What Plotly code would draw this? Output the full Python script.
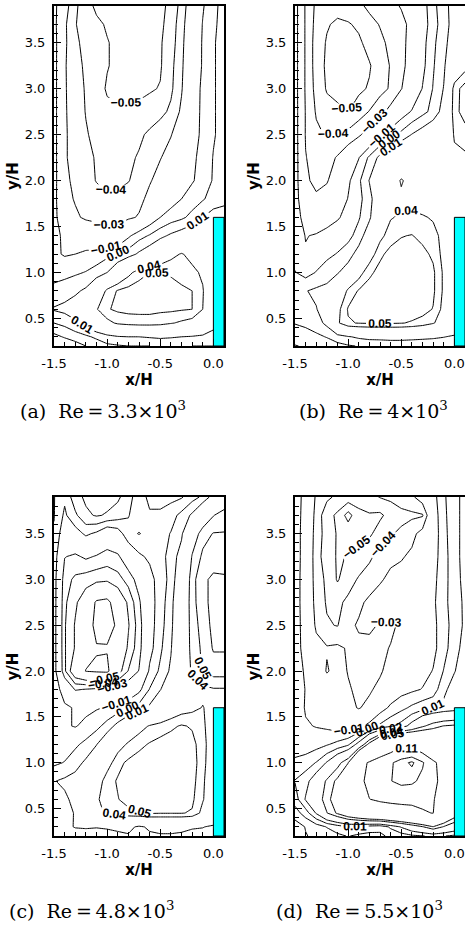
import numpy as np
import plotly.graph_objects as go

# grid (x/H, y/H)
x_grid = [-1.5, -1.4, -1.3, -1.2, -1.1, -1.0, -0.9, -0.8, -0.7, -0.6, -0.5, -0.4, -0.3, -0.2, -0.1, 0.0, 0.1]
y_grid = [0.2, 0.3, 0.45, 0.6, 0.8, 1.0, 1.2, 1.4, 1.6, 1.8, 2.0, 2.25, 2.5, 2.75, 3.0, 3.25, 3.5, 3.7, 3.9]

# values in units of 0.01, rows from y=0.2 upward
z_a = [
    [-2.0, -1.8, -1.5, -1.0, -0.6, -0.2, -0.1, 0.0, 0.0, 0.0, 0.1, 0.2, 0.1, 0.0, 0.0, 0.0, 0.0],
    [-1.3, -0.9, -0.5, -0.2, 0.2, 0.6, 0.9, 1.0, 1.0, 1.1, 1.2, 1.1, 1.0, 0.9, 0.8, 0.5, 0.5],
    [0.0, 0.3, 0.8, 1.5, 2.5, 3.6, 4.2, 4.4, 4.5, 4.5, 4.4, 4.1, 3.8, 3.5, 2.4, 1.5, 1.5],
    [1.1, 1.3, 1.6, 2.4, 3.9, 4.9, 5.2, 5.3, 5.3, 5.3, 5.2, 5.2, 5.1, 5.0, 4.0, 2.5, 2.5],
    [0.3, 0.5, 0.8, 1.2, 2.5, 4.3, 5.1, 5.4, 5.5, 5.5, 5.4, 5.3, 5.2, 5.0, 4.1, 2.5, 2.5],
    [-0.4, -0.3, -0.15, 0.05, 0.4, 1.0, 2.2, 3.6, 4.6, 5.0, 5.1, 4.9, 4.6, 4.3, 3.8, 3.0, 3.0],
    [-0.8, -1.1, -1.0, -0.8, -0.6, -0.3, 0.05, 0.5, 1.2, 1.8, 2.6, 3.6, 4.1, 3.6, 3.0, 3.0, 3.0],
    [-0.7, -1.2, -1.5, -1.8, -2.2, -2.6, -2.3, -1.2, -0.4, 0.1, 0.7, 1.2, 1.6, 2.0, 2.3, 2.5, 2.5],
    [-0.6, -2.0, -2.8, -3.2, -3.3, -3.4, -3.4, -3.2, -2.9, -1.8, -1.0, -0.5, -0.2, 0.3, 1.0, 1.5, 1.5],
    [-0.5, -2.6, -3.1, -3.3, -3.6, -3.9, -3.8, -3.5, -3.3, -2.7, -2.0, -1.5, -1.0, -0.5, -0.1, 0.4, 0.7],
    [-0.4, -2.8, -3.2, -3.6, -4.05, -4.2, -4.2, -4.05, -3.6, -3.1, -2.6, -2.2, -1.6, -1.1, -0.6, 0.1, 0.5],
    [-0.4, -2.9, -3.3, -3.7, -4.1, -4.3, -4.3, -4.2, -3.9, -3.4, -3.05, -2.6, -2.05, -1.2, -0.7, 0.05, 0.4],
    [-0.4, -2.9, -3.3, -3.9, -4.3, -4.5, -4.5, -4.4, -4.2, -3.8, -3.4, -3.05, -2.4, -1.4, -0.8, -0.1, 0.4],
    [-0.4, -2.9, -3.4, -4.05, -4.4, -4.8, -4.9, -4.9, -4.8, -4.6, -4.3, -3.8, -2.8, -1.5, -0.8, -0.1, 0.4],
    [-0.4, -2.9, -3.5, -4.1, -4.6, -5.1, -5.2, -5.2, -5.2, -5.1, -4.95, -4.2, -3.1, -1.6, -0.8, -0.1, 0.4],
    [-0.4, -2.9, -3.6, -4.2, -4.5, -4.95, -5.2, -5.3, -5.3, -5.2, -5.1, -4.3, -3.2, -1.8, -0.9, -0.1, 0.4],
    [-0.4, -2.8, -3.8, -4.3, -4.6, -4.95, -5.2, -5.3, -5.3, -5.2, -5.1, -4.5, -3.3, -1.9, -0.9, -0.1, 0.4],
    [-0.5, -2.8, -3.95, -4.4, -4.8, -5.1, -5.3, -5.5, -5.4, -5.3, -5.2, -4.6, -3.4, -2.05, -0.95, -0.2, 0.4],
    [-0.5, -2.5, -3.8, -4.6, -5.2, -5.4, -5.6, -5.8, -5.8, -5.6, -5.2, -4.8, -3.6, -2.2, -1.1, -0.3, 0.4],
]

z_b = [
    [-1.05, -0.9, -0.7, -0.5, -0.3, -0.1, 0.05, 0.1, 0.2, 0.2, 0.2, 0.2, 0.2, 0.2, 0.1, 0.05, 0.05],
    [-0.6, -0.4, -0.2, 0.05, 0.5, 0.9, 1.2, 1.4, 1.4, 1.5, 1.5, 1.4, 1.3, 1.2, 1.05, 0.8, 0.8],
    [0.05, 0.2, 0.5, 1.3, 3.8, 4.9, 5.05, 5.1, 5.1, 5.1, 5.05, 4.9, 4.6, 4.1, 3.4, 2.5, 2.5],
    [0.4, 0.6, 0.95, 1.6, 3.6, 5.1, 5.4, 5.5, 5.6, 5.6, 5.6, 5.5, 5.4, 4.95, 3.6, 3.0, 3.0],
    [0.8, 0.95, 1.2, 1.4, 2.2, 4.3, 5.1, 5.4, 5.6, 5.7, 5.7, 5.6, 5.5, 5.2, 3.8, 3.0, 3.0],
    [0.05, -0.4, 0.05, 0.4, 0.9, 1.6, 3.4, 4.8, 5.3, 5.5, 5.6, 5.6, 5.5, 5.2, 3.8, 3.0, 3.0],
    [-0.4, -0.9, -0.6, -0.2, 0.05, 0.5, 1.5, 3.2, 4.8, 5.3, 5.4, 5.4, 5.3, 4.8, 3.6, 3.0, 3.0],
    [-0.3, -1.05, -0.9, -0.7, -0.5, -0.3, 0.4, 1.8, 3.6, 4.6, 4.95, 5.05, 4.7, 4.3, 3.7, 3.0, 3.0],
    [-0.3, -1.6, -1.8, -1.4, -1.1, -0.7, -0.1, 0.8, 2.5, 3.9, 4.2, 4.2, 4.1, 3.9, 3.6, 3.6, 3.6],
    [-0.3, -2.4, -2.8, -2.5, -1.8, -0.95, -0.3, 0.6, 2.1, 3.3, 3.8, 3.6, 3.4, 3.3, 3.3, 3.4, 3.4],
    [-0.3, -2.8, -3.3, -3.1, -2.3, -1.2, -0.2, 1.05, 2.2, 3.3, 4.1, 3.6, 3.4, 3.3, 3.4, 3.5, 3.5],
    [-0.3, -2.95, -3.5, -3.4, -2.9, -2.1, -1.05, 0.2, 1.3, 2.2, 2.8, 3.2, 3.4, 3.5, 3.6, 3.8, 3.8],
    [-0.3, -3.1, -3.8, -4.1, -3.95, -3.7, -3.2, -2.4, -1.2, -0.4, 0.3, 1.05, 1.6, 2.2, 2.8, 4.1, 4.5],
    [-0.3, -3.1, -4.1, -4.6, -4.8, -5.02, -4.5, -3.95, -3.4, -2.6, -1.6, -0.9, -0.3, 0.3, 1.5, 4.6, 5.5],
    [-0.3, -3.2, -4.3, -5.1, -5.3, -5.3, -5.2, -4.9, -4.3, -3.9, -3.05, -2.1, -0.95, 0.05, 1.05, 4.5, 5.5],
    [-0.3, -3.2, -4.4, -5.2, -5.4, -5.4, -5.2, -5.1, -4.4, -3.95, -3.3, -2.5, -1.3, -0.1, 0.8, 2.5, 3.5],
    [-0.3, -3.2, -4.4, -5.1, -5.4, -5.4, -5.2, -4.6, -4.2, -3.8, -3.3, -2.6, -1.4, -0.2, 0.6, 1.8, 2.8],
    [-0.3, -3.2, -4.3, -4.9, -5.2, -5.1, -4.8, -4.3, -3.95, -3.5, -3.2, -2.8, -1.6, -0.4, 0.5, 1.5, 2.5],
    [-0.3, -3.2, -4.2, -4.6, -4.6, -4.4, -4.2, -3.8, -3.5, -3.2, -2.95, -2.6, -1.5, -0.3, 0.6, 1.5, 2.5],
]

z_c = [
    [0.5, 0.5, 0.6, 0.6, 0.6, 0.7, 0.8, 0.9, 0.5, 0.8, 0.9, 0.9, 0.8, 0.7, 0.6, 0.5, 0.5],
    [0.6, 0.8, 1.05, 1.1, 1.05, 1.1, 1.2, 1.3, 0.8, 1.2, 1.3, 1.3, 1.3, 1.1, 1.05, 0.8, 0.8],
    [0.3, 0.5, 1.1, 2.3, 3.6, 4.2, 4.3, 4.7, 4.95, 5.1, 5.05, 5.05, 5.05, 4.9, 3.6, 2.5, 2.5],
    [0.5, 0.8, 1.3, 2.4, 3.8, 4.6, 4.95, 5.4, 5.5, 5.6, 5.6, 5.5, 5.4, 5.2, 4.1, 3.0, 3.0],
    [0.95, 1.2, 1.4, 2.1, 3.2, 4.6, 5.1, 5.5, 5.7, 5.8, 5.8, 5.8, 5.7, 5.4, 4.2, 3.0, 3.0],
    [-0.2, 0.05, 0.6, 1.2, 2.1, 3.4, 4.7, 5.2, 5.5, 5.7, 5.8, 5.8, 5.7, 5.5, 4.4, 3.0, 3.0],
    [-0.3, -0.6, -0.2, 0.3, 0.95, 2.1, 3.4, 4.2, 4.7, 5.1, 5.4, 5.5, 5.5, 5.3, 4.5, 3.0, 3.0],
    [-0.3, -0.9, -1.05, -0.8, -0.3, 0.4, 1.4, 2.6, 3.5, 4.1, 4.4, 4.8, 5.1, 4.9, 4.3, 3.0, 3.0],
    [-0.3, -0.8, -1.1, -1.2, -1.1, -0.9, -0.6, -0.2, 0.4, 1.2, 2.1, 2.8, 3.4, 3.7, 4.05, 3.6, 3.6],
    [-0.3, -1.6, -3.1, -2.95, -2.8, -2.6, -2.4, -2.1, -1.3, 0.05, 0.95, 1.8, 2.8, 3.4, 3.7, 3.9, 3.9],
    [-0.4, -3.8, -6.1, -7.05, -7.2, -7.3, -5.6, -3.95, -2.95, -0.8, 0.2, 1.2, 2.8, 4.2, 5.1, 5.5, 5.5],
    [-0.4, -3.9, -5.1, -6.4, -6.9, -6.9, -6.4, -4.8, -3.4, -1.4, -0.2, 0.9, 2.7, 4.4, 5.2, 6.1, 6.1],
    [-0.4, -3.9, -5.1, -6.2, -7.4, -7.5, -6.8, -5.1, -3.5, -1.5, -0.4, 0.7, 2.6, 4.5, 5.4, 6.3, 6.3],
    [-0.4, -3.8, -4.8, -5.8, -7.2, -7.4, -6.1, -4.8, -3.2, -1.5, -0.5, 0.6, 2.5, 4.6, 5.7, 6.3, 6.3],
    [-0.4, -3.6, -4.2, -4.5, -4.7, -4.8, -4.4, -3.6, -2.5, -1.4, -0.5, 0.3, 2.2, 4.6, 5.8, 6.2, 6.2],
    [-0.3, -2.95, -3.2, -2.8, -3.1, -3.4, -3.2, -2.1, -1.2, -0.8, -0.4, 0.4, 1.5, 4.1, 5.2, 5.5, 5.3],
    [-0.1, -1.8, -1.5, -0.8, -1.2, -2.1, -1.6, -0.3, 0.05, -0.3, -0.4, 0.05, 0.8, 3.05, 4.6, 5.05, 5.05],
    [0.05, -1.2, -0.2, 0.8, 1.1, 0.9, 0.5, 0.05, -0.5, -0.9, -0.8, -0.4, 0.3, 1.2, 2.8, 3.95, 4.5],
    [0.05, -0.8, 0.6, 1.2, 1.4, 1.4, 1.2, 0.4, -0.6, -1.2, -1.4, -1.3, -1.1, -0.4, 0.2, 1.5, 2.9],
]

z_d = [
    [-1.2, -1.05, -0.8, -0.5, -0.2, 0.05, -0.2, -0.3, -0.2, 0.2, 0.5, 0.8, 0.95, 1.2, 1.05, 0.8, 0.8],
    [-1.5, -0.95, -0.5, 0.05, 0.5, 0.95, 0.8, 0.5, 0.3, 1.2, 2.1, 3.05, 3.9, 4.95, 3.9, 3.05, 3.05],
    [-0.5, 0.5, 2.1, 3.95, 5.2, 6.5, 7.5, 8.5, 9.05, 9.5, 9.8, 10.2, 10.8, 11.05, 8.05, 6.0, 6.0],
    [0.5, 2.1, 3.2, 4.6, 5.8, 8.05, 10.05, 10.95, 11.4, 11.6, 11.7, 11.6, 11.5, 11.2, 9.5, 8.05, 8.05],
    [1.05, 1.6, 2.8, 4.2, 5.3, 7.0, 10.2, 11.8, 12.4, 12.95, 13.4, 13.3, 12.6, 11.6, 10.2, 8.05, 8.05],
    [0.2, 0.5, 1.05, 2.1, 3.5, 4.95, 9.9, 11.3, 12.1, 12.8, 13.6, 14.2, 13.2, 11.5, 9.9, 8.05, 8.05],
    [-0.5, -0.6, -0.4, -0.1, 0.3, 0.8, 2.5, 5.5, 8.5, 9.5, 10.5, 10.3, 9.0, 7.5, 6.5, 6.05, 6.05],
    [-0.3, -0.9, -1.05, -1.2, -1.5, -1.6, -1.4, -0.6, 0.2, 0.8, 1.4, 2.5, 3.8, 4.6, 5.05, 5.2, 5.2],
    [-0.3, -1.1, -1.5, -1.8, -2.1, -2.6, -3.1, -2.6, -1.5, -0.8, -0.3, 0.2, 0.6, 0.9, 1.2, 1.4, 1.4],
    [-0.3, -1.05, -1.8, -2.2, -2.6, -2.9, -3.2, -3.2, -2.6, -1.8, -1.4, -1.2, -0.95, -0.6, 0.8, 1.4, 1.5],
    [-0.3, -1.2, -2.1, -3.1, -2.6, -3.05, -3.2, -3.3, -3.2, -2.4, -2.1, -1.8, -1.4, -0.95, 0.05, 0.95, 1.5],
    [-0.3, -1.6, -2.6, -2.9, -2.8, -3.1, -3.2, -3.3, -3.2, -2.95, -2.6, -2.3, -1.9, -1.3, -0.4, 0.6, 1.4],
    [-0.3, -1.7, -3.2, -3.9, -4.05, -3.2, -2.9, -2.8, -3.1, -3.2, -2.8, -2.4, -2.1, -1.3, -0.4, 0.4, 1.2],
    [-0.3, -1.8, -3.4, -4.1, -4.2, -3.8, -3.2, -2.8, -2.6, -2.5, -2.4, -2.3, -2.05, -1.2, -0.3, 0.5, 1.2],
    [-0.3, -1.8, -3.5, -4.2, -5.1, -4.4, -3.9, -3.5, -3.1, -2.8, -2.6, -2.3, -1.9, -1.3, -0.4, 0.6, 1.3],
    [-0.3, -1.7, -3.6, -4.5, -5.1, -4.95, -4.6, -4.2, -3.6, -3.2, -3.1, -2.8, -2.2, -1.5, -0.4, 0.6, 1.4],
    [-0.3, -1.7, -3.5, -4.4, -5.1, -5.3, -5.4, -5.2, -4.5, -4.1, -3.8, -3.3, -2.6, -1.6, -0.4, 0.8, 1.2],
    [-0.3, -1.6, -3.4, -4.6, -5.2, -6.4, -5.3, -5.1, -5.2, -4.6, -4.3, -4.2, -4.1, -1.6, -0.3, 0.8, 1.2],
    [-0.3, -1.5, -3.2, -3.8, -4.2, -4.4, -4.5, -4.3, -3.95, -3.8, -3.5, -3.2, -2.4, -1.4, -0.2, 0.8, 1.2],
]

levels_a = [-0.05, -0.04, -0.03, -0.01, 0.0, 0.01, 0.04, 0.05]
levels_b = [-0.05, -0.04, -0.03, -0.01, 0.0, 0.01, 0.04, 0.05]
levels_c = [-0.07, -0.05, -0.04, -0.03, -0.01, 0.0, 0.01, 0.04, 0.05, 0.06]
levels_d = [-0.06, -0.05, -0.04, -0.03, -0.01, 0.0, 0.01, 0.02, 0.04, 0.05, 0.11, 0.13, 0.14]

captions = ["(a)  Re\u2009=\u20093.3×10<sup>3</sup>", "(b)  Re\u2009=\u20094×10<sup>3</sup>",
            "(c)  Re\u2009=\u20094.8×10<sup>3</sup>", "(d)  Re\u2009=\u20095.5×10<sup>3</sup>"]
x_ticks = [-1.5, -1.0, -0.5, 0.0]
x_ticktext = ["-1.5", "-1.0", "-0.5", "0.0"]
y_ticks = [0.5, 1.0, 1.5, 2.0, 2.5, 3.0, 3.5]
y_ticktext = ["0.5", "1.0", "1.5", "2.0", "2.5", "3.0", "3.5"]
cylinder = dict(x0=0.0, x1=0.1, y0=0.2, y1=1.6)

W, H = 465, 927
# panel boxes in pixels: left, right, top, bottom
boxes = [(54, 224, 6, 346), (295, 465, 6, 346), (54, 224, 497, 836), (295, 465, 497, 836)]
cap_pos = [(18, 410), (297, 410), (7, 910), (274, 910)]

fig = go.Figure()
panels = [(z_a, levels_a), (z_b, levels_b), (z_c, levels_c), (z_d, levels_d)]
for i, (zz, levels) in enumerate(panels):
    z = np.array(zz) * 0.01
    xa = "x" if i == 0 else f"x{i+1}"
    ya = "y" if i == 0 else f"y{i+1}"
    for L in levels:
        fig.add_trace(go.Contour(
            x=x_grid, y=y_grid, z=z, xaxis=xa, yaxis=ya,
            autocontour=False, showscale=False, hoverinfo="skip",
            contours=dict(start=L, end=L, size=0.01, coloring="none",
                          showlabels=True, labelformat=".2f",
                          labelfont=dict(family="Liberation Sans", size=12,
                                         color="black", weight="bold")),
            line=dict(color="black", width=1, smoothing=0),
        ))
    l, r, t, b = boxes[i]
    key = "" if i == 0 else str(i + 1)
    fig.layout["xaxis" + key] = dict(
        domain=[l / W, r / W], range=[-1.5, 0.1], anchor=ya, automargin=False,
        tickmode="array", tickvals=x_ticks, ticktext=x_ticktext,
        ticks="inside", ticklen=7, tickwidth=1, tickcolor="black",
        minor=dict(ticks="inside", ticklen=4, tickwidth=1, tickcolor="black",
                   tickmode="linear", tick0=-1.5, dtick=0.1),
        showline=True, linecolor="black", linewidth=2, mirror=True,
        showgrid=False, zeroline=False, ticklabelstandoff=4,
        tickfont=dict(family="DejaVu Sans", size=13, color="black"),
        title=dict(text="<b>x/H</b>", standoff=0,
                   font=dict(family="DejaVu Sans", size=15, color="black")),
    )
    fig.layout["yaxis" + key] = dict(
        domain=[1 - b / H, 1 - t / H], range=[0.2, 3.9], anchor=xa, automargin=False,
        tickmode="array", tickvals=y_ticks, ticktext=y_ticktext,
        ticks="inside", ticklen=7, tickwidth=1, tickcolor="black",
        minor=dict(ticks="inside", ticklen=4, tickwidth=1, tickcolor="black",
                   tickmode="linear", tick0=0.2, dtick=0.1),
        showline=True, linecolor="black", linewidth=2, mirror=True,
        showgrid=False, zeroline=False, ticklabelstandoff=4,
        tickfont=dict(family="DejaVu Sans", size=13, color="black"),
        title=dict(text="<b>y/H</b>", standoff=2,
                   font=dict(family="DejaVu Sans", size=15, color="black")),
    )
    fig.add_shape(type="rect", xref=xa, yref=ya, layer="above",
                  fillcolor="#00FFFF", line=dict(color="black", width=1), **cylinder)
    cx, cy = cap_pos[i]
    fig.add_annotation(xref="paper", yref="paper", x=cx / W, y=1 - cy / H,
                       xanchor="left", yanchor="middle", showarrow=False,
                       text=captions[i],
                       font=dict(family="DejaVu Serif", size=19, color="black"))

fig.update_layout(width=W, height=H, margin=dict(l=0, r=0, t=0, b=0, autoexpand=False),
                  paper_bgcolor="white", plot_bgcolor="white", showlegend=False)
fig.write_html("out.html")
